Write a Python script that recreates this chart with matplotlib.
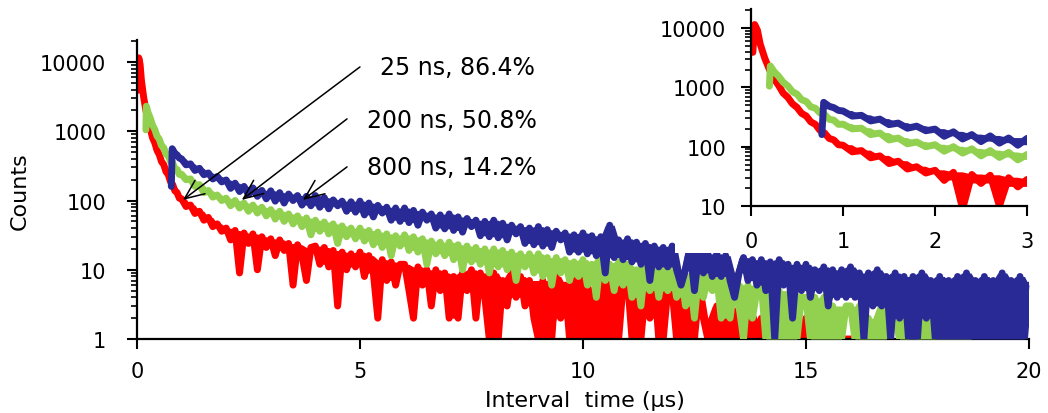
import numpy as np
import matplotlib
matplotlib.use("Agg")
import matplotlib.pyplot as plt
from matplotlib.patches import Rectangle
from matplotlib.ticker import LogLocator, NullLocator, NullFormatter

plt.rcParams['font.family'] = 'DejaVu Sans'

# --- decay histograms (counts per bin), time in microseconds ---
# early part sampled more finely, then every 0.1 us from 1.0 us onwards
red_t0 = [0.02, 0.04, 0.07, 0.10, 0.15, 0.20, 0.25, 0.30, 0.35, 0.40, 0.45,
          0.50, 0.55, 0.60, 0.65, 0.70, 0.75, 0.80, 0.85, 0.90, 0.95]
red_c0 = [3900, 11500, 9200, 5400, 3100, 2000, 1400, 1080, 800, 680, 530,
          460, 365, 330, 262, 238, 188, 170, 138, 130, 108]
red_c = [106, 82, 86, 65, 70, 52, 57, 42, 46, 36,
         40, 27, 37, 9, 34, 24, 33, 10, 30, 21,
         28, 16, 27, 19, 24, 6, 23, 16, 7, 21,
         22, 12, 21, 11, 19, 3, 18, 10, 17, 11,
         18, 8, 16, 9, 2, 14, 7, 13, 6, 12,
         12, 5, 2, 11, 6, 10, 3, 10, 5, 9,
         2, 8, 2, 9, 5, 10, 2, 9, 4, 1,
         9, 1, 7, 3, 9, 4, 8, 3, 7, 2,
         1, 7, 1, 1, 8, 2, 6, 1, 7, 1,
         8, 1, 5, 1, 7, 1, 9, 1, 1, 6,
         7, 1, 5, 1, 5, 2, 7, 1, 1, 5,
         5, 1, 5, 1, 4, 1, 5, 2, 1, 1,
         3, 1, 1, 3, 1, 2, 1, 3, 1, 1,
         2, 1, 3, 1, 1, 2, 1, 1, 1, 1,
         2, 1, 1, 1, 1, 1, 1, 1, 1, 1,
         1, 1, 2, 1]

green_t0 = [0.20, 0.21, 0.25, 0.30, 0.35, 0.40, 0.45, 0.50, 0.55, 0.60,
            0.65, 0.70, 0.75, 0.80, 0.85, 0.90, 0.95]
green_c0 = [1050, 2300, 1850, 1540, 1220, 1060, 850, 770, 620, 580,
            470, 445, 370, 350, 290, 280, 238]
green_c = [240, 200, 205, 160, 170, 130, 140, 112, 120, 100,
           108, 84, 100, 78, 92, 70, 86, 66, 80, 60,
           74, 54, 70, 50, 64, 46, 60, 42, 56, 32,
           52, 36, 49, 33, 46, 24, 43, 30, 40, 28,
           40, 26, 37, 23, 35, 21, 33, 16, 31, 22,
           32, 19, 30, 18, 28, 12, 26, 17, 25, 16,
           25, 14, 23, 10, 22, 13, 21, 12, 20, 9,
           20, 11, 19, 10, 18, 7, 17, 11, 17, 9,
           17, 8, 15, 6, 15, 9, 14, 7, 13, 8,
           14, 6, 12, 4, 16, 7, 12, 5, 13, 6,
           12, 4, 10, 3, 13, 5, 11, 4, 10, 5,
           10, 4, 9, 3, 8, 2, 9, 4, 8, 5,
           8, 2, 7, 2, 7, 3, 1, 6, 2, 5,
           6, 1, 5, 1, 5, 1, 1, 5, 1, 4,
           4, 1, 4, 1, 4, 1, 3, 1, 1, 3,
           3, 1, 3, 1, 2, 1, 1, 3, 1, 2,
           2, 1, 2, 1, 2, 1, 1, 2, 1, 1,
           1, 2, 1, 1, 1, 2, 1, 1, 1]

blue_t0 = [0.77, 0.79, 0.85, 0.90, 0.95]
blue_c0 = [160, 560, 480, 455, 410]
blue_c = [400, 328, 338, 272, 292, 236, 250, 205, 222, 186,
          198, 150, 178, 135, 160, 122, 152, 115, 140, 106,
          138, 98, 130, 92, 124, 100, 118, 86, 115, 84,
          118, 80, 110, 76, 102, 84, 98, 70, 96, 68,
          98, 62, 92, 58, 85, 66, 80, 52, 78, 50,
          78, 48, 72, 44, 68, 52, 64, 40, 62, 39,
          64, 37, 58, 35, 55, 42, 52, 31, 50, 30,
          52, 29, 47, 27, 44, 33, 42, 24, 40, 23,
          42, 22, 38, 21, 36, 27, 34, 18, 32, 18,
          34, 17, 31, 16, 30, 9, 44, 15, 27, 14,
          28, 13, 25, 12, 24, 7, 22, 11, 21, 11,
          22, 10, 6, 10, 20, 5, 18, 9, 17, 8,
          17, 8, 16, 7, 4, 9, 15, 7, 14, 6,
          14, 5, 13, 1, 14, 6, 12, 2, 12, 5,
          12, 4, 10, 5, 11, 3, 10, 4, 10, 4,
          11, 4, 9, 1, 9, 3, 10, 3, 8, 1,
          9, 2, 8, 1, 8, 1, 9, 2, 7, 1,
          8, 1, 7, 1, 8, 1, 9, 1, 7, 1,
          8, 1, 7, 1, 9, 1, 7, 1, 8, 1, 6]

# fitted components: label, text anchor (t, counts), arrow tail and tip
labels = ['25 ns, 86.4%', '200 ns, 50.8%', '800 ns, 14.2%']
label_pos = [(5.45, 8500), (5.16, 1460), (5.16, 306)]
arrow_tail = [(5.0, 8500), (4.71, 1510), (4.71, 306)]
arrow_tip = [(1.03, 102), (2.35, 102), (3.72, 102)]


def full(t0, c0, c):
    t = np.concatenate([t0, 1.0 + 0.1 * np.arange(len(c))])
    return t, np.concatenate([c0, c]).astype(float), len(t0)


series = [(full(red_t0, red_c0, red_c), '#FF0000', 2),
          (full(green_t0, green_c0, green_c), '#92D050', 3),
          (full(blue_t0, blue_c0, blue_c), '#2A2A96', 4)]


def draw(a, lw):
    for (t, c, n0), col, z in series:
        a.plot(t, c, color=col, lw=lw, zorder=z, solid_joinstyle='round',
               solid_capstyle='round')
        # shade between the local lows and highs of the noisy tail so it
        # reads as a band; single deep dips stay one bin wide
        tl, cl = t[n0:], c[n0:]
        nb = np.vstack([np.r_[cl[0], cl[:-1]], cl, np.r_[cl[1:], cl[-1]]])
        lo = np.minimum(cl, np.median(nb, axis=0))
        hi = nb.max(axis=0)
        a.fill_between(tl, lo, hi, color=col, lw=0, zorder=z)


def style(a, xlim, xticks, yticks, ylim, xpad, ypad):
    a.set_yscale('log')
    a.set_xlim(*xlim)
    a.set_ylim(*ylim)
    a.set_xticks(xticks, [str(x) for x in xticks])
    a.set_yticks(yticks, [str(y) for y in yticks])
    a.yaxis.set_minor_locator(LogLocator(base=10, subs=np.arange(2, 10)))
    a.yaxis.set_minor_formatter(NullFormatter())
    a.xaxis.set_minor_locator(NullLocator())
    for s in ['top', 'right']:
        a.spines[s].set_visible(False)
    for s in ['left', 'bottom']:
        a.spines[s].set_linewidth(1.6)
    a.tick_params(which='major', direction='out', length=7, width=1.5,
                  labelsize=15, colors='black')
    a.tick_params(axis='x', which='major', pad=xpad)
    a.tick_params(axis='y', which='major', pad=ypad)
    a.tick_params(which='minor', direction='out', length=4.5, width=1.2)


fig = plt.figure(figsize=(10.48, 4.14), dpi=100)

ax = fig.add_axes([0.1307, 0.1787, 0.8511, 0.7229])
draw(ax, 5)
style(ax, (0, 20), [0, 5, 10, 15, 20], [1, 10, 100, 1000, 10000],
      (1, 21000), 9, 15)

for txt, p, tail, tip in zip(labels, label_pos, arrow_tail, arrow_tip):
    ax.text(p[0], p[1], txt, fontsize=17, ha='left', va='center')
    ax.annotate('', xy=tip, xytext=tail,
                arrowprops=dict(arrowstyle='->, head_length=0.7, head_width=0.3',
                                mutation_scale=20, lw=1.1, color='black',
                                shrinkA=0, shrinkB=0), zorder=6)

fig.text(20 / 1048, 1 - 191 / 414, 'Counts', rotation=90, fontsize=16,
         ha='center', va='center')
fig.text(585 / 1048, 1 - 401 / 414, 'Interval  time (µs)', fontsize=16,
         ha='center', va='center')

# white box behind the inset and its tick labels
fig.add_artist(Rectangle((675 / 1048, 1 - 254 / 414), 1, 1,
                         transform=fig.transFigure, facecolor='white',
                         edgecolor='none', zorder=1))

axin = fig.add_axes([0.7166, 0.5, 0.2634, 0.4758], zorder=3)
axin.set_facecolor('white')
draw(axin, 5)
style(axin, (0, 3), [0, 1, 2, 3], [10, 100, 1000, 10000],
      (10, 21000), 11, 11)

fig.savefig('out.png', dpi=100)
